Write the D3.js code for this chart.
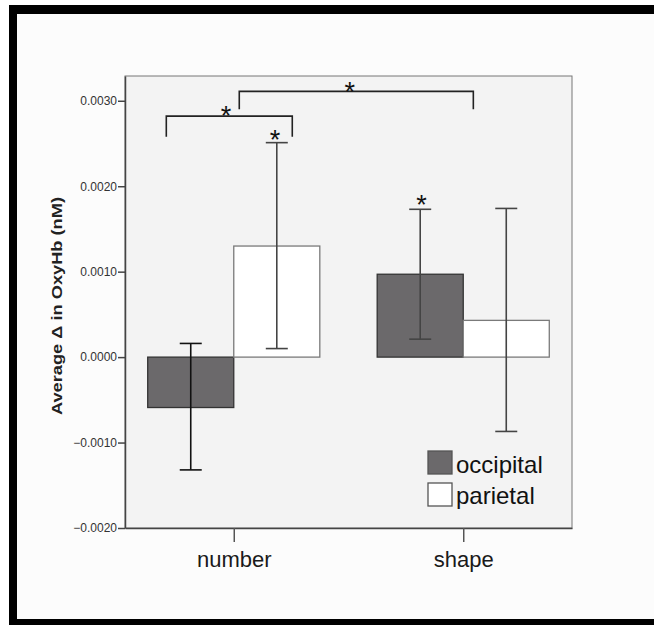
<!DOCTYPE html>
<html>
<head>
<meta charset="utf-8">
<script src="https://cdn.jsdelivr.net/npm/d3@7"></script>
<style>
  html, body { margin: 0; padding: 0; background: #fff; }
  svg { display: block; }
  text { font-family: Arial, "Liberation Sans", sans-serif; }
</style>
</head>
<body>
<svg id="chart" width="654" height="625"></svg>
<script>
// ── data ────────────────────────────────────────────────────────────────
const categories = ['number', 'shape'];
const series     = ['occipital', 'parietal'];
// mean Δ OxyHb per category, one array per series
const occipital      = [-0.00059, 0.00097];
const parietal       = [ 0.00130, 0.00043];
const occipitalLow   = [-0.00132, 0.00021];
const occipitalHigh  = [ 0.00016, 0.00173];
const parietalLow    = [ 0.00010, -0.00087];
const parietalHigh   = [ 0.00251, 0.00174];
const yTicks = [-0.002, -0.001, 0, 0.001, 0.002, 0.003];
// significance brackets: x in category units (number = 0, shape = 1), y in nM
const brackets = [
  { x0: -0.294, x1: 0.255, top: 0.00282, leg: 0.00258 },
  { x0:  0.024, x1: 1.044, top: 0.00311, leg: 0.00290 }
];
const stars = [
  { x: -0.034, y: 0.00290 },
  { x:  0.506, y: 0.00318 },
  { x:  0.180, y: 0.00262 },
  { x:  0.818, y: 0.00186 }
];

const barData = [];
categories.forEach((c, i) => {
  barData.push({ cat: c, s: 'occipital', v: occipital[i], lo: occipitalLow[i], hi: occipitalHigh[i] });
  barData.push({ cat: c, s: 'parietal',  v: parietal[i],  lo: parietalLow[i],  hi: parietalHigh[i] });
});

// ── layout ──────────────────────────────────────────────────────────────
const svg = d3.select('#chart');
const L = 125, R = 572, T = 76, B = 528;

// page background + black frame (top/left/bottom)
svg.append('rect').attr('x', 17).attr('y', 14).attr('width', 637).attr('height', 605).attr('fill', '#fcfcfc');
svg.append('rect').attr('x', 9).attr('y', 5).attr('width', 645).attr('height', 9).attr('fill', '#000');
svg.append('rect').attr('x', 9).attr('y', 5).attr('width', 8).attr('height', 620).attr('fill', '#000');
svg.append('rect').attr('x', 9).attr('y', 619).attr('width', 645).attr('height', 6).attr('fill', '#000');

const y = d3.scaleLinear().domain([-0.002, 0.00329]).range([B, T]);
const x = d3.scalePoint().domain(categories).range([L, R]).padding(0.474);
const step = x.step();
const barW = step * 0.375;
const inner = d3.scaleOrdinal().domain(series).range([-barW, 0]);
const pos = t => x(categories[0]) + t * step;   // annotation x in category units
const fill = d3.scaleOrdinal().domain(series).range(['#6b696b', '#ffffff']);
const edge = d3.scaleOrdinal().domain(series).range(['#333333', '#7a7a7a']);

// plot area
svg.append('rect').attr('x', L).attr('y', T).attr('width', R - L).attr('height', B - T)
  .attr('fill', '#f3f3f3').attr('stroke', '#777').attr('stroke-width', 1);

// bars
svg.selectAll('.bar').data(barData).join('rect')
  .attr('class', 'bar')
  .attr('x', d => x(d.cat) + inner(d.s))
  .attr('y', d => y(Math.max(0, d.v)))
  .attr('width', barW)
  .attr('height', d => Math.abs(y(d.v) - y(0)))
  .attr('fill', d => fill(d.s))
  .attr('stroke', d => edge(d.s)).attr('stroke-width', 1.3);

// error bars
const capW = 22;
const eb = svg.selectAll('.eb').data(barData).join('g').attr('class', 'eb')
  .attr('stroke', (d, i) => i === 0 ? '#111' : '#444').attr('stroke-width', 1.6);
eb.append('line')
  .attr('x1', d => x(d.cat) + inner(d.s) + barW / 2).attr('x2', d => x(d.cat) + inner(d.s) + barW / 2)
  .attr('y1', d => y(d.lo)).attr('y2', d => y(d.hi));
['lo', 'hi'].forEach(k => {
  eb.append('line')
    .attr('x1', d => x(d.cat) + inner(d.s) + barW / 2 - capW / 2)
    .attr('x2', d => x(d.cat) + inner(d.s) + barW / 2 + capW / 2)
    .attr('y1', d => y(d[k])).attr('y2', d => y(d[k]));
});

// axes
const yAxis = svg.append('g').attr('transform', `translate(${L},0)`)
  .call(d3.axisLeft(y).tickValues(yTicks).tickFormat(d3.format('.4f'))
    .tickSizeInner(7).tickSizeOuter(0).tickPadding(1));
yAxis.select('.domain').attr('stroke', '#444').attr('stroke-width', 1.5);
yAxis.selectAll('.tick line').attr('stroke', '#444').attr('stroke-width', 1.5);
yAxis.selectAll('.tick text').attr('font-size', '12px').attr('fill', '#333')
  .attr('font-family', 'Arial, "Liberation Sans", sans-serif');

const xAxis = svg.append('g').attr('transform', `translate(0,${B})`)
  .call(d3.axisBottom(x).tickSizeInner(14).tickSizeOuter(0).tickPadding(9));
xAxis.select('.domain').attr('stroke', '#444').attr('stroke-width', 1.5);
xAxis.selectAll('.tick line').attr('stroke', '#555').attr('stroke-width', 1.5);
xAxis.selectAll('.tick text').attr('font-size', '22px').attr('fill', '#1a1a1a')
  .attr('font-family', 'Arial, "Liberation Sans", sans-serif');

// y title
svg.append('text')
  .attr('transform', `translate(62,${(T + B) / 2 + 4}) rotate(-90)`)
  .attr('text-anchor', 'middle')
  .attr('font-size', '15px').attr('font-weight', 'bold').attr('fill', '#222')
  .attr('textLength', 218).attr('lengthAdjust', 'spacingAndGlyphs')
  .text('Average Δ in OxyHb (nM)');

// significance brackets
svg.selectAll('.br').data(brackets).join('path')
  .attr('class', 'br').attr('fill', 'none').attr('stroke', '#222').attr('stroke-width', 1.6)
  .attr('d', d => `M${pos(d.x0)},${y(d.leg)}V${y(d.top)}H${pos(d.x1)}V${y(d.leg)}`);

svg.selectAll('.star').data(stars).join('text')
  .attr('class', 'star').attr('text-anchor', 'middle')
  .attr('x', d => pos(d.x)).attr('y', d => y(d.y) + 16)
  .attr('font-size', '27px').attr('fill', '#111')
  .text('*');

// legend
const leg = svg.append('g').attr('transform', 'translate(428,451)');
series.forEach((s, i) => {
  leg.append('rect').attr('x', 0).attr('y', i * 32).attr('width', 24).attr('height', 23)
    .attr('fill', fill(s)).attr('stroke', '#555').attr('stroke-width', 1.3);
  leg.append('text').attr('x', 28).attr('y', 22 + i * 31)
    .attr('font-size', '24px').attr('fill', '#111').text(s);
});
</script>
</body>
</html>
